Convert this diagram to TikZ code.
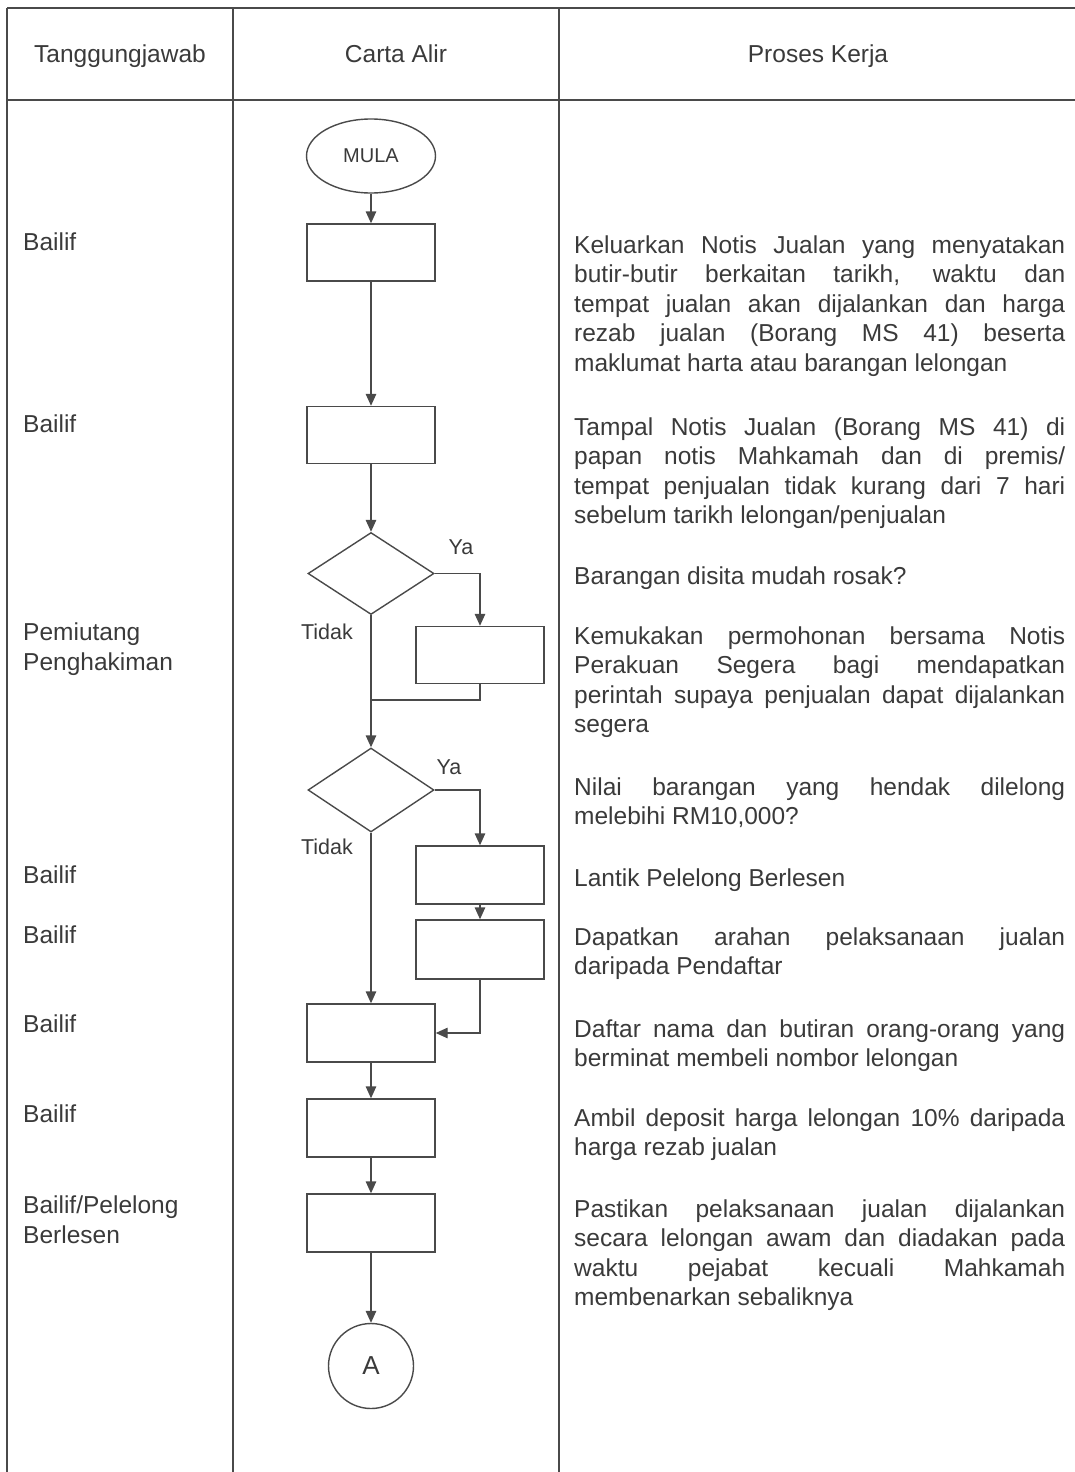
\documentclass[tikz,border=0pt]{standalone}
\usepackage{fontspec}
\setmainfont{Liberation Sans}
\usetikzlibrary{shapes.geometric,arrows.meta,positioning}
\definecolor{ink}{HTML}{3A3A3A}
\definecolor{rule}{HTML}{4A4A4A}
\hyphenpenalty=10000
\exhyphenpenalty=10000
\tolerance=9999
\tikzset{
  garis/.style={draw=rule,line width=1.4pt},
  panah/.style={garis,-{Triangle[length=12pt,width=10.5pt]}},
  kotak/.style={garis,rectangle,minimum width=128pt,minimum height=57pt,inner sep=0pt},
  putus/.style={garis,diamond,minimum width=126pt,minimum height=82pt,inner sep=0pt},
  mula/.style={garis,ellipse,minimum width=129pt,minimum height=74pt,inner sep=0pt,text=ink,font=\fontsize{20}{24}\selectfont},
  sambung/.style={garis,circle,minimum size=85pt,inner sep=0pt,text=ink,font=\fontsize{26}{30}\selectfont},
  tajuk/.style={anchor=base,inner sep=0pt,text=ink,font=\fontsize{24.5}{29.5}\selectfont},
  peran/.style={anchor=base west,align=left,inner sep=0pt,text=ink,font=\fontsize{24.5}{29.5}\selectfont},
  proses/.style={anchor=base west,text width=491pt,align=justify,inner sep=0pt,text=ink,font=\fontsize{24.5}{29.5}\selectfont},
  pilih/.style={anchor=base,inner sep=0pt,text=ink,font=\fontsize{21.5}{26}\selectfont}
}
\begin{document}
\begin{tikzpicture}[x=1pt,y=-1pt]
\useasboundingbox (0,0) rectangle (1075,1472);
\draw[garis,line width=1.6pt] (7,8) -- (1075,8);
\draw[garis,line width=1.6pt] (7,100) -- (1075,100);
\draw[garis,line width=1.6pt] (7,8) -- (7,1472);
\draw[garis,line width=1.6pt] (233,8) -- (233,1472);
\draw[garis,line width=1.6pt] (559,8) -- (559,1472);

\node[tajuk] (h1) at (120,63) {Tanggungjawab};
\node[tajuk] (h2) at (396,63) {Carta Alir};
\node[tajuk] (h3) at (818,63) {Proses Kerja};

\node[mula] (mula) at (371,156) {MULA};
\node[kotak] (b1) at (371,252.5) {};
\node[kotak] (b2) at (371,435) {};
\node[putus] (d1) at (371,573.5) {};
\node[kotak] (b3) at (480,655) {};
\coordinate (j1) at (371,700);
\node[putus,minimum height=84pt] (d2) at (371,790) {};
\node[kotak,minimum height=58pt] (b4) at (480,875) {};
\node[kotak,minimum height=59pt] (b5) at (480,949.5) {};
\node[kotak,minimum height=58pt] (b6) at (371,1033) {};
\node[kotak,minimum height=58pt] (b7) at (371,1128) {};
\node[kotak,minimum height=58pt] (b8) at (371,1223) {};
\node[sambung] (a) at (371,1366) {A};

\node[pilih] (ya1) at (461,554) {Ya};
\node[pilih] (ya2) at (449,774) {Ya};
\node[pilih] (td1) at (327,639) {Tidak};
\node[pilih] (td2) at (327,854) {Tidak};

\draw[panah] (mula) -- (b1);
\draw[panah] (b1) -- (b2);
\draw[panah] (b2) -- (d1);
\draw[panah] (d1.east) -| (b3.north);
\draw[garis] (b3.south) |- (j1);
\draw[panah] (d1.south) -- (d2.north);
\draw[panah] (d2.east) -| (b4.north);
\draw[panah] (b4) -- (b5);
\draw[panah] (b5.south) |- (b6.east);
\draw[panah] (d2.south) -- (b6.north);
\draw[panah] (b6) -- (b7);
\draw[panah] (b7) -- (b8);
\draw[panah] (b8) -- (a);

\node[peran] (r1) at (23,250) {Bailif};
\node[peran] (r2) at (23,432) {Bailif};
\node[peran] (r3) at (23,670) {Pemiutang\\Penghakiman};
\node[peran] (r4) at (23,883) {Bailif};
\node[peran] (r5) at (23,943) {Bailif};
\node[peran] (r6) at (23,1032) {Bailif};
\node[peran] (r7) at (23,1122) {Bailif};
\node[peran] (r8) at (23,1243) {Bailif/Pelelong\\Berlesen};

\node[proses] (p1) at (574,253) {Keluarkan Notis Jualan yang menyatakan\linebreak butir-butir berkaitan tarikh, waktu dan\linebreak tempat jualan akan dijalankan dan harga\linebreak rezab jualan (Borang MS 41) beserta\linebreak maklumat harta atau barangan lelongan};
\node[proses] (p2) at (574,435) {Tampal Notis Jualan (Borang MS 41) di\linebreak papan notis Mahkamah dan di premis/\linebreak tempat penjualan tidak kurang dari 7 hari\linebreak sebelum tarikh lelongan/penjualan};
\node[proses] (p3) at (574,584) {Barangan disita mudah rosak?};
\node[proses] (p4) at (574,644) {Kemukakan permohonan bersama Notis\linebreak Perakuan Segera bagi mendapatkan\linebreak perintah supaya penjualan dapat dijalankan\linebreak segera};
\node[proses] (p5) at (574,795) {Nilai barangan yang hendak dilelong\linebreak melebihi RM10,000?};
\node[proses] (p6) at (574,886) {Lantik Pelelong Berlesen};
\node[proses] (p7) at (574,945) {Dapatkan arahan pelaksanaan jualan\linebreak daripada Pendaftar};
\node[proses] (p8) at (574,1037) {Daftar nama dan butiran orang-orang yang\linebreak berminat membeli nombor lelongan};
\node[proses] (p9) at (574,1126) {Ambil deposit harga lelongan 10\% daripada\linebreak harga rezab jualan};
\node[proses] (p10) at (574,1217) {Pastikan pelaksanaan jualan dijalankan\linebreak secara lelongan awam dan diadakan pada\linebreak waktu pejabat kecuali Mahkamah\linebreak membenarkan sebaliknya};
\end{tikzpicture}
\end{document}
